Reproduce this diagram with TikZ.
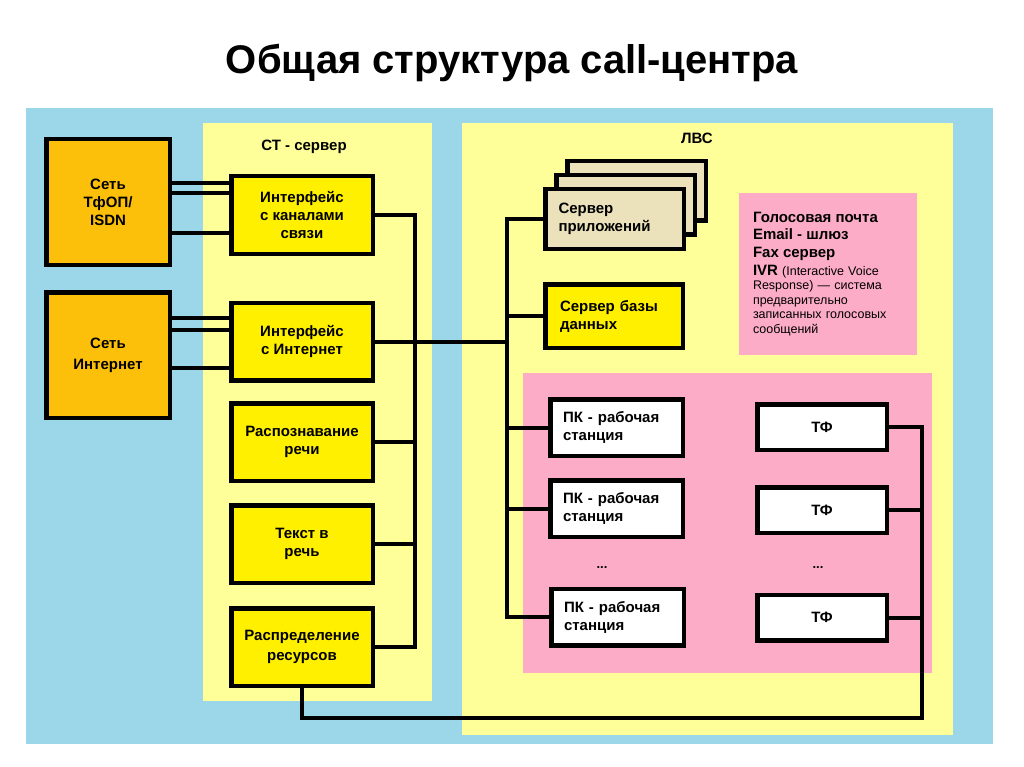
\documentclass[tikz,border=0pt]{standalone}
\usepackage{fontspec}
\setmainfont{Liberation Sans}
\definecolor{bgblue}{RGB}{155,215,232}
\definecolor{paley}{RGB}{255,255,153}
\definecolor{brighty}{RGB}{255,240,0}
\definecolor{orng}{RGB}{252,192,10}
\definecolor{beigeb}{RGB}{235,226,188}
\definecolor{pinkb}{RGB}{252,172,198}
\begin{document}
\begin{tikzpicture}[x=1pt,y=-1pt,
  box/.style={draw=black, line width=4.5pt, inner sep=0pt, align=center,
    font=\bfseries\fontsize{15}{18}\selectfont},
  obox/.style={box, fill=orng, minimum width=123.5pt, minimum height=125.5pt},
  ybox/.style={box, fill=brighty, minimum width=141.5pt, minimum height=77.5pt},
  sbox/.style={box, fill=beigeb, minimum width=138.5pt, minimum height=59.5pt},
  pcbox/.style={box, fill=white, minimum width=132.5pt, minimum height=56.5pt, align=left, text width=107pt},
  tfbox/.style={box, fill=white, minimum width=129.5pt, minimum height=45.5pt},
  lbl/.style={inner sep=0pt, font=\bfseries\fontsize{15}{18}\selectfont},
  dotlbl/.style={inner sep=0pt, font=\bfseries\fontsize{13}{15}\selectfont},
  wire/.style={line width=4pt}
]
\useasboundingbox (0,0) rectangle (1024,767);
\fill[white] (0,0) rectangle (1024,767);
% title
\node[inner sep=0pt, font=\bfseries\fontsize{40}{44}\selectfont] (title) at (512,63) {Общая структура call-центра};
% backgrounds
\fill[bgblue] (26,108) rectangle (993,744);
\fill[paley] (203,123) rectangle (432,701);
\fill[paley] (462,123) rectangle (953,735);
\fill[pinkb] (523,373) rectangle (932,673);
\node[lbl] (ct) at (304,147) {СТ - сервер};
\node[lbl] (lvs) at (697,138) {ЛВС};
% left networks
\node[obox] (tfop) at (108,202) {Сеть\\ТфОП/\\ISDN};
\node[obox] (inet) at (108,355) {Сеть\\[3pt]Интернет};
% CT server boxes
\node[ybox] (int1) at (302,215) {Интерфейс\\с каналами\\связи};
\node[ybox] (int2) at (302,341.5) {Интерфейс\\с Интернет};
\node[ybox] (rasp) at (302,442) {Распознавание\\речи};
\node[ybox] (tts) at (302,544) {Текст в\\речь};
\node[ybox] (rr) at (302,647) {Распределение\\[2pt]ресурсов};
% servers
\node[sbox] (app3) at (636.5,191) {};
\node[sbox] (app2) at (625.5,205) {};
\node[sbox, align=left, text width=112pt] (app) at (614.5,219) {Сервер\\приложений};
\node[box, fill=brighty, minimum width=137.5pt, minimum height=63.5pt, align=left, text width=108pt] (db) at (614,316) {Сервер базы\\данных};
\node[fill=pinkb, inner sep=0pt, minimum width=178pt, minimum height=161pt, align=left, text width=150pt,
      font=\fontsize{12.5}{14.5}\selectfont] (voice) at (828,274)
  {{\fontsize{15}{14.5}\selectfont\bfseries Голосовая почта}\\[3pt]
   {\fontsize{15}{14.5}\selectfont\bfseries Email - шлюз}\\[3pt]
   {\fontsize{15}{14.5}\selectfont\bfseries Fax сервер}\\[3.5pt]
   {\fontsize{15}{14.5}\selectfont\bfseries IVR} (Interactive Voice\\
   Response) — система\\
   предварительно\\
   записанных голосовых\\
   сообщений};
% workstations and phones
\node[pcbox] (pc1) at (616.5,427.5) {ПК - рабочая\\станция};
\node[pcbox] (pc2) at (616.5,508.5) {ПК - рабочая\\станция};
\node[pcbox] (pc3) at (617.5,617) {ПК - рабочая\\станция};
\node[tfbox] (tf1) at (822,427) {ТФ};
\node[tfbox] (tf2) at (822,510) {ТФ};
\node[tfbox] (tf3) at (822,617.5) {ТФ};
\node[dotlbl] (dots1) at (602,568) {...};
\node[dotlbl] (dots2) at (818,568) {...};
% bus coordinates
\coordinate (bL) at (415,0);
\coordinate (bR) at (507,0);
\coordinate (bT) at (922,0);
\coordinate (bot) at (0,718);
% connections
\draw[wire] (tfop.east |- 0,183) -- (int1.west |- 0,183);
\draw[wire] (tfop.east |- 0,193) -- (int1.west |- 0,193);
\draw[wire] (tfop.east |- 0,233) -- (int1.west |- 0,233);
\draw[wire] (inet.east |- 0,318) -- (int2.west |- 0,318);
\draw[wire] (inet.east |- 0,330) -- (int2.west |- 0,330);
\draw[wire] (inet.east |- 0,368) -- (int2.west |- 0,368);
\draw[wire] (int1.east) -| (bL |- rr.east) -- (rr.east);
\draw[wire] (int2.east) -- (int2.east -| bR);
\draw[wire] (rasp.east) -- (rasp.east -| bL);
\draw[wire] (tts.east) -- (tts.east -| bL);
\draw[wire] (app.west) -| (bR |- pc3.west) -- (pc3.west);
\draw[wire] (db.west) -- (db.west -| bR);
\draw[wire] (pc1.west) -- (pc1.west -| bR);
\draw[wire] (pc2.west) -- (pc2.west -| bR);
\draw[wire] (rr.south) -- (rr.south |- bot) -- (bT |- bot) -- (bT |- tf1.east) -- (tf1.east);
\draw[wire] (tf2.east) -- (tf2.east -| bT);
\draw[wire] (tf3.east) -- (tf3.east -| bT);
\end{tikzpicture}
\end{document}
